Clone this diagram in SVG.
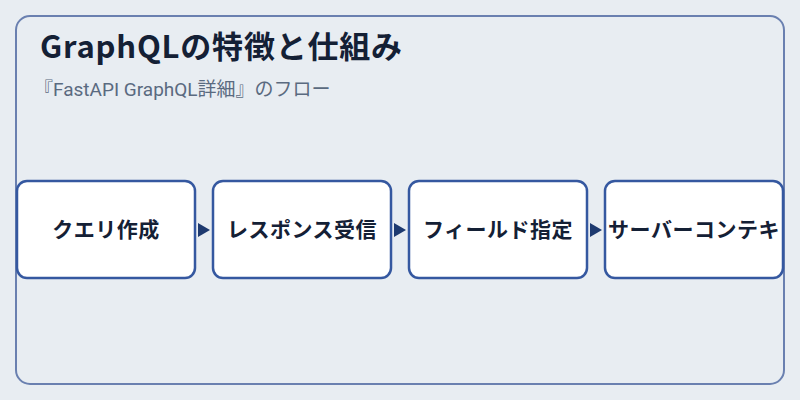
<svg xmlns="http://www.w3.org/2000/svg" width="800" height="400" viewBox="0 0 800 400">
<defs>
<style>
.frame{fill:#e8edf2;stroke:#6a80b0;stroke-width:2}
.box{fill:#ffffff;stroke:#3558a0;stroke-width:2.5}
.lbl{font-family:"Noto Sans CJK JP","Noto Sans",sans-serif;font-size:21px;font-weight:700;fill:#142035;text-anchor:middle;letter-spacing:0.5px}
.title{font-family:"Noto Sans CJK JP","Noto Sans",sans-serif;font-size:31px;font-weight:700;fill:#142035;letter-spacing:0.8px}
.sub{font-family:Roboto,"Noto Sans CJK JP",sans-serif;font-size:19px;fill:#5a6a80}
.arr{fill:#1e3a70}
</style>
</defs>
<rect width="800" height="400" fill="#e8edf2"/>
<rect class="frame" x="16" y="16" width="768" height="368" rx="14"/>
<text class="title" x="40" y="58">GraphQLの特徴と仕組み</text>
<text class="sub" x="34" y="96">『FastAPI GraphQL詳細』のフロー</text>
<g id="connectors">
<polygon class="arr" points="198,223 210,230 198,237"/>
<polygon class="arr" points="394,223 406,230 394,237"/>
<polygon class="arr" points="590,223 602,230 590,237"/>
</g>
<g id="node1"><rect class="box" x="17" y="181" width="178" height="97" rx="10"/><text class="lbl" x="106" y="237">クエリ作成</text></g>
<g id="node2"><rect class="box" x="213" y="181" width="178" height="97" rx="10"/><text class="lbl" x="302" y="237">レスポンス受信</text></g>
<g id="node3"><rect class="box" x="409" y="181" width="178" height="97" rx="10"/><text class="lbl" x="498" y="237">フィールド指定</text></g>
<g id="node4"><rect class="box" x="605" y="181" width="178" height="97" rx="10"/><text class="lbl" x="694" y="237">サーバーコンテキ</text></g>
</svg>
